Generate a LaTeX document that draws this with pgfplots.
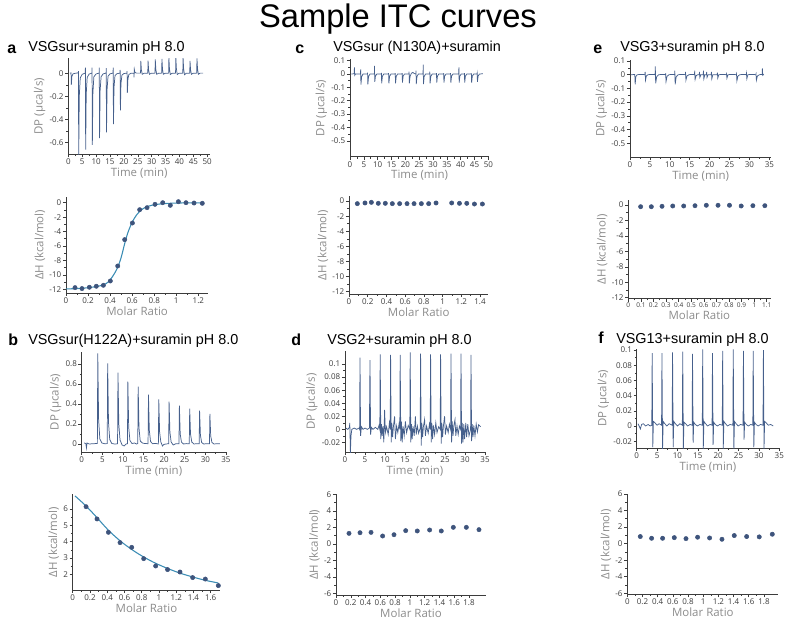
\documentclass[border=0pt]{standalone}
\usepackage{pgfplots}
\pgfplotsset{compat=1.18}
\usepackage{fontspec}
\setmainfont{Liberation Sans}
\newfontfamily\axf{Open Sans}
\definecolor{tline}{RGB}{70,96,140}
\definecolor{fitc}{RGB}{58,140,180}
\definecolor{dotc}{RGB}{62,84,124}
\definecolor{axc}{RGB}{60,60,60}
\definecolor{labc}{RGB}{140,140,140}
\pgfplotsset{itc/.style={
 scale only axis, enlargelimits=false,
 axis x line*=bottom, axis y line*=left,
 axis line style={draw=axc, line width=0.5pt, -},
 tick align=outside,
 major tick length=2.4pt, minor tick length=1.4pt,
 every tick/.style={draw=axc, line width=0.4pt},
 minor tick num=1,
 scaled ticks=false,
 /pgf/number format/assume math mode=true,
 /pgf/number format/fixed,
 /pgf/number format/precision=2,
 ticklabel style={font=\axf\fontsize{6}{7}\selectfont, text=axc, inner sep=1pt},
 label style={font=\axf\fontsize{8.6}{10}\selectfont, text=labc},
 xlabel style={inner sep=1pt},
 ylabel style={inner sep=2pt},
 clip=true,
},
therm/.style={draw=tline, line width=0.55pt, no markers},
dots/.style={only marks, mark=*, mark size=1.6pt, color=dotc},
fit/.style={draw=fitc, line width=0.8pt, smooth, no markers},
}
\begin{document}
\begin{tikzpicture}[x=0.75pt,y=-0.75pt]
\path[use as bounding box] (0,0) rectangle (800,638);
\node[font=\fontsize{24.5}{28}\selectfont] at (398,19) {Sample ITC curves};
% panel labels and titles
\node[anchor=base west,inner sep=0,font=\fontsize{12}{14}\bfseries\selectfont] at (7,54) {a};
\node[anchor=base west,inner sep=0,font=\fontsize{10.8}{13}\selectfont] at (28,52) {VSGsur+suramin pH 8.0};
\node[anchor=base west,inner sep=0,font=\fontsize{12}{14}\bfseries\selectfont] at (8,345) {b};
\node[anchor=base west,inner sep=0,font=\fontsize{10.8}{13}\selectfont] at (28,344) {VSGsur(H122A)+suramin pH 8.0};
\node[anchor=base west,inner sep=0,font=\fontsize{12}{14}\bfseries\selectfont] at (295,54) {c};
\node[anchor=base west,inner sep=0,font=\fontsize{10.8}{13}\selectfont] at (333,52) {VSGsur (N130A)+suramin};
\node[anchor=base west,inner sep=0,font=\fontsize{12}{14}\bfseries\selectfont] at (291,345) {d};
\node[anchor=base west,inner sep=0,font=\fontsize{10.8}{13}\selectfont] at (327,344) {VSG2+suramin pH 8.0};
\node[anchor=base west,inner sep=0,font=\fontsize{12}{14}\bfseries\selectfont] at (593,54) {e};
\node[anchor=base west,inner sep=0,font=\fontsize{10.8}{13}\selectfont] at (620,52) {VSG3+suramin pH 8.0};
\node[anchor=base west,inner sep=0,font=\fontsize{12}{14}\bfseries\selectfont] at (598,343) {f};
\node[anchor=base west,inner sep=0,font=\fontsize{10.8}{13}\selectfont] at (616,343) {VSG13+suramin pH 8.0};
\coordinate (A1) at (68.3,154.2);
\coordinate (A2) at (66,292.9);
\coordinate (B1) at (81.7,452);
\coordinate (B2) at (72.7,590);
\coordinate (C1) at (350,156.8);
\coordinate (C2) at (349,294);
\coordinate (D1) at (345,452.2);
\coordinate (D2) at (336,595);
\coordinate (E1) at (630,157);
\coordinate (E2) at (628.3,298.5);
\coordinate (F1) at (636.7,448);
\coordinate (F2) at (627.3,594.1);

% ---------- a top
\begin{axis}[itc, at={(A1)}, anchor=south west, width=106.3pt, height=71.9pt,
 xmin=0, xmax=51, ymin=-0.7, ymax=0.13,
 xtick={0,5,...,50}, ytick={-0.6,-0.4,-0.2,0},
 xlabel={Time (min)}, ylabel={DP (µcal/s)}]
\addplot[therm] coordinates {
(0.6,0.002)(1.0,0.004)(1.08,-0.10)(1.3,-0.025)(1.7,-0.004)(2.6,0.001)(3.6,0.004)
(3.65,0.02)(3.75,-0.72)(3.95,-0.2)(4.3,-0.04)(5.0,-0.008)(6.1,0.002)
(6.15,0.05)(6.25,-0.66)(6.45,-0.18)(6.8,-0.035)(7.5,-0.006)(8.5,0.002)
(8.55,0.05)(8.65,-0.62)(8.85,-0.17)(9.2,-0.03)(10.0,-0.005)(11.1,0.002)
(11.15,0.05)(11.25,-0.56)(11.45,-0.15)(11.8,-0.03)(12.5,-0.005)(13.6,0.002)
(13.65,0.045)(13.75,-0.51)(13.95,-0.14)(14.3,-0.025)(15.0,-0.004)(16.1,0.002)
(16.15,0.05)(16.25,-0.44)(16.45,-0.12)(16.8,-0.02)(17.5,-0.003)(18.6,0.002)
(18.65,0.03)(18.75,-0.32)(18.95,-0.09)(19.3,-0.015)(20.0,-0.002)(21.1,0.002)
(21.15,0.02)(21.25,-0.17)(21.45,-0.05)(21.8,-0.01)(22.5,0.0)(23.6,0.002)
(23.65,-0.035)(23.75,0.035)(23.95,0.01)(24.5,0.002)(26.0,0.002)
(26.1,0.107)(26.3,0.03)(26.6,-0.008)(27.2,0.0)(28.6,0.002)
(28.7,0.11)(28.9,0.03)(29.2,-0.008)(29.8,0.0)(31.2,0.002)
(31.3,0.12)(31.5,0.035)(31.8,-0.008)(32.4,0.0)(33.6,0.002)
(33.7,0.125)(33.9,0.035)(34.2,-0.008)(34.8,0.0)(36.1,0.002)
(36.2,0.135)(36.4,0.04)(36.7,-0.01)(37.3,0.0)(38.6,0.002)
(38.7,0.135)(38.9,0.04)(39.2,-0.01)(39.8,0.0)(41.2,0.002)
(41.3,0.135)(41.5,0.04)(41.8,-0.012)(42.4,0.0)(43.7,0.002)
(43.8,0.107)(44.0,0.03)(44.3,-0.008)(44.9,0.0)(46.2,0.002)
(46.3,0.13)(46.5,0.04)(46.8,-0.008)(47.4,0.002)(48.5,0.002)
};
\end{axis}

% ---------- a bottom
\begin{axis}[itc, at={(A2)}, anchor=south west, width=106.7pt, height=72pt,
 xmin=0, xmax=1.29, ymin=-12.5, ymax=0.8,
 xtick={0,0.2,0.4,0.6,0.8,1,1.2}, ytick={-12,-10,-8,-6,-4,-2,0},
 xlabel={Molar Ratio}, ylabel={ΔH (kcal/mol)}]
\addplot[fit] coordinates {
(0,-11.95)(0.1,-11.9)(0.2,-11.78)(0.3,-11.55)(0.36,-11.25)(0.4,-10.7)(0.44,-9.8)(0.47,-8.9)(0.5,-7.6)(0.53,-5.8)(0.56,-4.2)(0.6,-2.7)(0.64,-1.7)(0.68,-1.05)(0.72,-0.65)(0.78,-0.35)(0.86,-0.17)(0.95,-0.08)(1.05,-0.04)(1.24,-0.02)
};
\addplot[dots] coordinates {
(0.082,-11.77)(0.145,-11.9)(0.212,-11.72)(0.275,-11.58)(0.339,-11.45)(0.402,-10.85)(0.469,-8.77)(0.532,-5.12)(0.602,-2.82)(0.668,-0.97)(0.735,-0.69)(0.807,-0.23)(0.877,0.0)(0.946,-0.37)(1.019,0.14)(1.088,0.0)(1.161,-0.05)(1.236,-0.09)
};
\end{axis}

% ---------- b top
\begin{axis}[itc, at={(B1)}, anchor=south west, width=108.2pt, height=75pt,
 xmin=0, xmax=35, ymin=-0.08, ymax=0.92,
 xtick={0,5,...,35}, ytick={0,0.2,0.4,0.6,0.8},
 xlabel={Time (min)}, ylabel={DP (µcal/s)}]
\addplot[therm] coordinates {
(0.6,0.01)(1.0,0.005)(1.15,-0.04)(1.3,0.01)(1.8,0.0)(2.8,0.003)(3.8,0.005)
(3.9,0.907)(4.1,0.25)(4.4,0.05)(4.9,0.01)(5.6,0.003)(6.2,0.004)
(6.3,0.807)(6.5,0.22)(6.8,0.045)(7.3,0.005)(8.0,0.0)(8.7,0.002)
(8.8,0.713)(9.0,0.2)(9.3,0.04)(9.8,-0.01)(10.3,-0.02)(10.8,0.0)(11.1,0.003)
(11.2,0.623)(11.4,0.17)(11.7,0.035)(12.2,0.005)(12.8,0.01)(13.3,0.0)(13.6,0.005)
(13.7,0.573)(13.9,0.16)(14.2,0.03)(14.7,0.01)(15.3,0.005)(16.1,0.003)
(16.2,0.493)(16.4,0.14)(16.7,0.025)(17.2,0.003)(17.9,0.006)(18.6,0.0)
(18.7,0.447)(18.9,0.12)(19.2,0.02)(19.6,-0.02)(19.9,-0.005)(20.4,0.0)(21.1,0.003)
(21.2,0.423)(21.4,0.12)(21.7,0.02)(22.2,-0.01)(22.8,0.002)(23.6,0.003)
(23.7,0.383)(23.9,0.1)(24.2,0.02)(24.7,0.0)(25.4,0.004)(26.1,0.002)
(26.2,0.353)(26.4,0.1)(26.7,0.02)(27.2,0.0)(27.9,0.003)(28.5,0.002)
(28.6,0.333)(28.8,0.09)(29.1,0.015)(29.6,0.0)(30.3,0.003)(31.0,0.002)
(31.1,0.30)(31.3,0.08)(31.6,0.015)(32.1,0.0)(32.8,0.003)(33.5,0.002)
};
\end{axis}

% ---------- b bottom
\begin{axis}[itc, at={(B2)}, anchor=south west, width=110.6pt, height=71.8pt,
 xmin=0, xmax=1.71, ymin=1.04, ymax=6.9,
 xtick={0,0.2,0.4,0.6,0.8,1,1.2,1.4,1.6}, ytick={2,3,4,5,6},
 xlabel={Molar Ratio}, ylabel={ΔH (kcal/mol)}]
\addplot[fit] coordinates {
(0.027,6.80)(0.155,6.18)(0.28,5.48)(0.41,4.72)(0.55,4.05)(0.69,3.5)(0.82,3.07)(0.96,2.68)(1.10,2.36)(1.24,2.08)(1.39,1.84)(1.54,1.63)(1.689,1.47)
};
\addplot[dots] coordinates {
(0.155,6.14)(0.282,5.39)(0.414,4.57)(0.549,3.94)(0.684,3.65)(0.823,2.96)(0.962,2.51)(1.10,2.29)(1.244,2.14)(1.391,1.80)(1.538,1.71)(1.689,1.31)
};
\end{axis}

% ---------- c top
\begin{axis}[itc, at={(C1)}, anchor=south west, width=104.4pt, height=73.1pt,
 xmin=0, xmax=50.3, ymin=-0.62, ymax=0.11,
 xtick={0,5,...,50}, ytick={-0.5,-0.4,-0.3,-0.2,-0.1,0,0.1},
 xlabel={Time (min)}, ylabel={DP (µcal/s)}]
\addplot[therm] coordinates {
(0.5,0.0)(1.5,0.002)(1.6,0.05)(1.7,-0.01)(2.0,0.0)(3.8,0.0)
(3.85,0.035)(3.95,-0.08)(4.2,-0.02)(4.7,0.0)(6.3,0.0)
(6.35,0.01)(6.45,-0.078)(6.7,-0.02)(7.2,0.0)(8.8,0.0)
(8.85,0.06)(8.95,-0.058)(9.2,-0.015)(9.7,0.0)(11.3,0.0)
(11.35,0.008)(11.45,-0.07)(11.7,-0.018)(12.2,0.0)(13.9,0.0)
(13.95,0.006)(14.05,-0.07)(14.3,-0.018)(14.8,0.0)(16.3,0.0)
(16.35,0.006)(16.45,-0.07)(16.7,-0.018)(17.2,0.0)(18.8,0.0)
(18.85,0.006)(18.95,-0.065)(19.2,-0.016)(19.7,0.0)(21.3,0.0)
(21.35,0.018)(21.45,-0.07)(21.7,-0.018)(22.2,0.006)(22.7,0.012)(23.2,0.004)(23.8,0.0)
(23.85,0.025)(23.95,-0.075)(24.2,-0.019)(24.7,0.0)(26.4,0.0)
(26.45,0.07)(26.55,-0.075)(26.8,-0.019)(27.3,0.0)(28.8,0.0)
(28.85,0.018)(28.95,-0.07)(29.2,-0.018)(29.7,0.0)(31.2,0.0)
(31.25,0.006)(31.35,-0.065)(31.6,-0.016)(32.1,0.0)(33.8,0.0)
(33.85,0.006)(33.95,-0.065)(34.2,-0.016)(34.7,0.0)(36.3,0.0)
(36.35,0.006)(36.45,-0.065)(36.7,-0.016)(37.2,0.0)(39.3,0.0)
(39.35,0.05)(39.45,-0.065)(39.7,-0.016)(40.2,0.0)(41.3,0.0)
(41.35,0.006)(41.45,-0.065)(41.7,-0.016)(42.2,0.0)(43.8,0.0)
(43.85,0.006)(43.95,-0.065)(44.2,-0.016)(44.7,0.0)(45.9,0.0)
(45.95,0.006)(46.05,-0.058)(46.3,-0.015)(46.8,0.0)(48.0,0.002)
};
\end{axis}

% ---------- c bottom
\begin{axis}[itc, at={(C2)}, anchor=south west, width=104.6pt, height=73.5pt,
 xmin=0, xmax=1.49, ymin=-12.3, ymax=0.66,
 xtick={0,0.2,0.4,0.6,0.8,1,1.2,1.4}, ytick={-12,-10,-8,-6,-4,-2,0},
 xlabel={Molar Ratio}, ylabel={ΔH (kcal/mol)}]
\addplot[dots] coordinates {
(0.089,-0.35)(0.171,-0.26)(0.239,-0.18)(0.313,-0.31)(0.388,-0.31)(0.463,-0.35)(0.541,-0.35)(0.62,-0.35)(0.695,-0.35)(0.773,-0.35)(0.851,-0.35)(0.93,-0.26)(1.097,-0.26)(1.18,-0.31)(1.258,-0.31)(1.34,-0.4)(1.425,-0.4)
};
\end{axis}

% ---------- d top
\begin{axis}[itc, at={(D1)}, anchor=south west, width=105pt, height=75.9pt,
 xmin=0, xmax=35, ymin=-0.035, ymax=0.12,
 xtick={0,5,...,35}, ytick={-0.02,0,0.02,0.04,0.06,0.08,0.1},
 xlabel={Time (min)}, ylabel={DP (µcal/s)}]
\addplot[therm] coordinates {
(0.2,0.002)(0.7,0.0)(1.1,0.003)(1.2,0.01)(1.35,-0.036)(1.5,-0.01)(1.7,0.0)(2.3,0.002)(2.9,0.0)(3.5,0.002)
(3.65,0.0)(3.75,0.11)(3.9,-0.01)(4.1,0.004)(4.5,0.0)(5.0,0.002)(5.6,0.0)(6.1,0.002)
(6.25,0.106)(6.4,-0.008)(6.6,0.003)(7.0,0.0)(7.6,0.003)(8.2,0.0)(8.5,0.006)(8.7,0.0)
(8.8,0.115)(8.95,-0.015)(9.1,0.008)(9.3,-0.01)(9.5,0.005)(9.7,-0.02)(9.9,0.03)(10.1,-0.005)(10.4,0.004)(10.8,-0.008)(11.1,0.01)(11.3,0.0)
(11.4,0.114)(11.55,-0.02)(11.7,0.01)(11.9,-0.012)(12.1,0.004)(12.4,0.02)(12.6,-0.015)(12.9,0.005)(13.2,-0.005)(13.5,0.008)(13.7,0.0)
(13.8,0.114)(13.95,-0.018)(14.1,0.012)(14.3,-0.02)(14.5,0.005)(14.8,-0.01)(15.1,0.012)(15.4,-0.005)(15.8,0.006)(16.2,0.0)
(16.3,0.118)(16.45,-0.02)(16.6,0.008)(16.8,-0.015)(17.0,0.005)(17.3,-0.01)(17.6,0.02)(17.8,-0.008)(18.1,0.005)(18.4,-0.006)(18.8,0.002)
(18.9,0.116)(19.05,-0.025)(19.2,0.01)(19.4,-0.012)(19.6,0.004)(19.9,0.015)(20.1,-0.01)(20.4,0.005)(20.8,-0.006)(21.1,0.008)(21.3,0.0)
(21.4,0.115)(21.55,-0.02)(21.7,0.01)(21.9,-0.015)(22.1,0.006)(22.4,-0.008)(22.7,0.01)(23.0,-0.005)(23.4,0.004)(23.8,0.0)
(23.9,0.115)(24.05,-0.022)(24.2,0.01)(24.4,-0.012)(24.6,0.005)(24.9,0.02)(25.1,-0.008)(25.4,0.005)(25.8,-0.005)(26.1,0.008)(26.4,0.0)
(26.5,0.116)(26.65,-0.02)(26.8,0.012)(27.0,-0.01)(27.2,0.005)(27.5,0.015)(27.7,-0.01)(28.0,0.005)(28.3,-0.008)(28.6,0.005)(28.9,0.0)
(29.0,0.116)(29.15,-0.022)(29.3,0.01)(29.5,-0.02)(29.7,0.008)(29.9,-0.015)(30.2,0.01)(30.4,-0.012)(30.7,0.008)(31.0,-0.01)(31.4,0.0)
(31.5,0.114)(31.65,-0.018)(31.8,0.008)(32.0,-0.012)(32.2,0.006)(32.5,-0.01)(32.8,0.008)(33.1,-0.004)(33.4,0.007)(33.9,0.004)
};
\end{axis}

% ---------- d bottom
\begin{axis}[itc, at={(D2)}, anchor=south west, width=112.5pt, height=75.5pt,
 xmin=0, xmax=2.03, ymin=-6.2, ymax=6,
 xtick={0,0.2,0.4,0.6,0.8,1,1.2,1.4,1.6,1.8}, ytick={-6,-4,-2,0,2,4,6},
 xlabel={Molar Ratio}, ylabel={ΔH (kcal/mol)}]
\addplot[dots] coordinates {
(0.176,1.27)(0.325,1.35)(0.474,1.39)(0.631,0.95)(0.785,1.11)(0.943,1.60)(1.10,1.56)(1.267,1.68)(1.425,1.56)(1.588,2.0)(1.764,2.0)(1.935,1.72)
};
\end{axis}

% ---------- e top
\begin{axis}[itc, at={(E1)}, anchor=south west, width=106pt, height=73.05pt,
 xmin=0, xmax=35.5, ymin=-0.6, ymax=0.11,
 xtick={0,5,...,35}, ytick={-0.5,-0.4,-0.3,-0.2,-0.1,0,0.1},
 xlabel={Time (min)}, ylabel={DP (µcal/s)}]
\addplot[therm] coordinates {
(0.3,0.0)(1.2,0.001)(1.3,-0.07)(1.45,-0.015)(1.8,0.0)(3.0,0.002)(3.75,0.0)
(3.8,0.02)(3.9,-0.04)(4.1,-0.01)(4.5,0.0)(5.5,0.002)(6.3,0.0)
(6.35,0.06)(6.45,-0.063)(6.7,-0.015)(7.2,0.0)(8.3,0.002)(8.9,0.0)
(8.95,0.01)(9.05,-0.05)(9.3,-0.012)(9.8,0.0)(10.6,0.002)(11.2,0.0)
(11.25,0.03)(11.35,-0.07)(11.6,-0.016)(12.1,0.0)(13.2,0.002)(13.9,0.0)
(13.95,0.02)(14.05,-0.04)(14.3,-0.01)(14.8,0.0)(15.6,0.002)(16.2,0.0)
(16.25,0.03)(16.35,-0.035)(16.6,-0.008)(17.0,0.0)(17.4,0.0)
(17.45,0.02)(17.55,-0.02)(17.8,0.0)(18.4,0.0)
(18.45,0.03)(18.55,-0.03)(18.8,0.0)(19.2,0.0)
(19.25,0.02)(19.35,-0.02)(19.6,0.0)(20.4,0.0)
(20.45,0.02)(20.55,-0.03)(20.8,0.0)(21.9,0.0)
(21.95,0.015)(22.05,-0.025)(22.3,0.0)(23.4,0.002)(24.2,0.0)
(24.25,0.005)(24.35,-0.025)(24.6,0.0)(25.8,0.002)(26.7,0.0)
(26.75,0.005)(26.85,-0.045)(27.1,-0.01)(27.6,0.0)(28.5,0.002)(29.2,0.0)
(29.25,0.01)(29.35,-0.03)(29.6,0.0)(30.7,0.002)(31.6,0.0)
(31.65,0.005)(31.75,-0.04)(32.0,-0.01)(32.5,0.0)(33.2,0.002)
(33.25,0.045)(33.35,-0.005)(33.6,0.002)
};
\end{axis}

% ---------- e bottom
\begin{axis}[itc, at={(E2)}, anchor=south west, width=106.65pt, height=73.9pt,
 xmin=0, xmax=1.13, ymin=-12.1, ymax=0.65,
 xtick={0,0.1,0.2,0.3,0.4,0.5,0.6,0.7,0.8,0.9,1,1.1}, ytick={-12,-10,-8,-6,-4,-2,0},
 xticklabel style={font=\axf\fontsize{4.9}{6}\selectfont, inner sep=0.8pt},
 xlabel={Molar Ratio}, ylabel={ΔH (kcal/mol)}]
\addplot[dots] coordinates {
(0.098,-0.22)(0.183,-0.22)(0.268,-0.17)(0.353,-0.13)(0.44,-0.13)(0.53,-0.09)(0.62,-0.04)(0.713,-0.04)(0.804,-0.04)(0.897,-0.13)(0.99,-0.09)(1.085,-0.09)
};
\end{axis}

% ---------- f top
\begin{axis}[itc, at={(F1)}, anchor=south west, width=106.95pt, height=74.6pt,
 xmin=0, xmax=35, ymin=-0.029, ymax=0.102,
 xtick={0,5,...,35}, ytick={-0.02,0,0.02,0.04,0.06,0.08,0.1},
 xlabel={Time (min)}, ylabel={DP (µcal/s)}]
\addplot[therm] coordinates {
(0.3,0.003)(0.6,0.0)(0.9,-0.004)(1.2,0.002)(1.6,0.003)(2.2,0.0)(2.8,0.002)(3.3,0.0)(3.7,0.001)
(3.8,0.096)(3.95,-0.028)(4.1,0.006)(4.5,0.004)(5.0,0.001)(5.5,0.003)(6.1,0.001)
(6.2,0.096)(6.35,-0.03)(6.5,0.006)(6.9,0.003)(7.4,0.0)(8.0,0.003)(8.7,0.001)
(8.8,0.097)(8.95,-0.028)(9.1,0.006)(9.5,0.003)(10.0,0.0)(10.6,0.003)(11.2,0.001)
(11.3,0.098)(11.45,-0.03)(11.6,0.005)(12.0,0.003)(12.5,0.0)(13.1,0.002)(13.6,0.001)
(13.7,0.095)(13.85,-0.022)(14.0,0.005)(14.4,0.002)(14.9,0.0)(15.5,0.002)(16.1,0.001)
(16.2,0.101)(16.35,-0.03)(16.5,0.006)(16.9,0.003)(17.4,0.0)(18.0,0.002)(18.5,0.001)
(18.6,0.096)(18.75,-0.025)(18.9,0.005)(19.3,0.002)(19.8,0.0)(20.4,0.002)(21.0,0.001)
(21.1,0.099)(21.25,-0.03)(21.4,0.006)(21.8,0.003)(22.3,0.0)(22.9,0.002)(23.6,0.001)
(23.7,0.101)(23.85,-0.03)(24.0,0.006)(24.4,0.003)(24.9,0.0)(25.5,0.002)(26.1,0.001)
(26.2,0.099)(26.35,-0.018)(26.5,0.005)(26.9,0.002)(27.4,0.0)(28.0,0.002)(28.5,0.001)
(28.6,0.099)(28.75,-0.028)(28.9,0.005)(29.3,0.002)(29.8,0.0)(30.4,0.002)(31.0,0.001)
(31.1,0.1)(31.25,-0.03)(31.4,0.006)(31.8,0.004)(32.3,0.001)(32.9,0.002)(33.5,0.0)
};
\end{axis}

% ---------- f bottom
\begin{axis}[itc, at={(F2)}, anchor=south west, width=113.3pt, height=75.15pt,
 xmin=0, xmax=1.99, ymin=-6.1, ymax=6,
 xtick={0,0.2,0.4,0.6,0.8,1,1.2,1.4,1.6,1.8}, ytick={-6,-4,-2,0,2,4,6},
 xlabel={Molar Ratio}, ylabel={ΔH (kcal/mol)}]
\addplot[dots] coordinates {
(0.171,0.85)(0.32,0.64)(0.465,0.64)(0.619,0.72)(0.773,0.6)(0.926,0.77)(1.084,0.68)(1.247,0.52)(1.409,0.97)(1.572,0.85)(1.738,0.81)(1.91,1.13)
};
\end{axis}
\end{tikzpicture}
\end{document}
